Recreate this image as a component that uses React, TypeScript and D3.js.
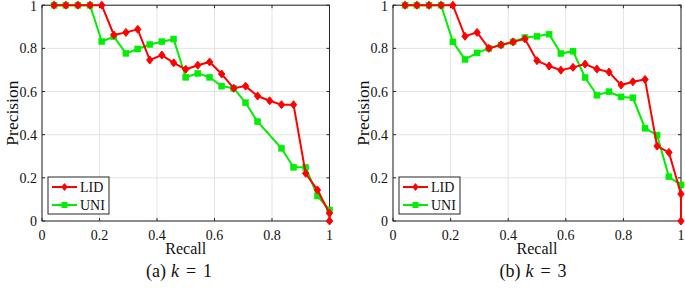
import React from "react";
import * as d3 from "d3";

const recallLid = [0.042, 0.083, 0.125, 0.167, 0.208, 0.25, 0.292, 0.333, 0.375, 0.417, 0.458, 0.5, 0.542, 0.583, 0.625, 0.667, 0.708, 0.75, 0.792, 0.833, 0.875, 0.917, 0.958, 1, 1];
const precisionLidK1 = [1, 1, 1, 1, 1, 0.862, 0.874, 0.888, 0.746, 0.769, 0.733, 0.703, 0.722, 0.737, 0.681, 0.615, 0.625, 0.579, 0.557, 0.539, 0.539, 0.221, 0.144, 0.036, 0];
const recallUniK1 = [0.042, 0.083, 0.125, 0.167, 0.208, 0.25, 0.292, 0.333, 0.375, 0.417, 0.458, 0.5, 0.542, 0.583, 0.625, 0.667, 0.708, 0.75, 0.833, 0.875, 0.917, 0.958, 1];
const precisionUniK1 = [1, 1, 1, 1, 0.832, 0.854, 0.777, 0.797, 0.818, 0.831, 0.843, 0.666, 0.684, 0.666, 0.625, 0.615, 0.548, 0.46, 0.337, 0.249, 0.249, 0.116, 0.051];

const precisionLidK3 = [1, 1, 1, 1, 1, 0.856, 0.874, 0.8, 0.816, 0.83, 0.844, 0.743, 0.718, 0.699, 0.712, 0.727, 0.704, 0.69, 0.63, 0.645, 0.656, 0.347, 0.318, 0.125, 0];
const recallUniK3 = [0.042, 0.083, 0.125, 0.167, 0.208, 0.25, 0.292, 0.333, 0.375, 0.417, 0.458, 0.5, 0.542, 0.583, 0.625, 0.667, 0.708, 0.75, 0.792, 0.833, 0.875, 0.917, 0.958, 1];
const precisionUniK3 = [1, 1, 1, 1, 0.83, 0.749, 0.779, 0.8, 0.816, 0.83, 0.85, 0.856, 0.866, 0.776, 0.787, 0.665, 0.583, 0.599, 0.575, 0.571, 0.43, 0.398, 0.205, 0.167];

const tickValues = [0, 0.2, 0.4, 0.6, 0.8, 1];
const tickLabels = ["0", "0.2", "0.4", "0.6", "0.8", "1"];
const seriesNames = ["LID", "UNI"];
const captions = [["(a)", "k", "=", "1"], ["(b)", "k", "=", "3"]];

const RED = "#ff0000";
const GREEN = "#00ee00";
const FONT = "'Liberation Serif', 'Times New Roman', serif";

type Pt = [number, number];

function zip(a: number[], b: number[]): Pt[] {
  return a.map((v, i) => [v, b[i]] as Pt);
}

function Panel(props: {
  left: number;
  right: number;
  lid: Pt[];
  uni: Pt[];
  caption: string[];
  captionX: number;
}) {
  const top = 5.2;
  const bottom = 221;
  const x = d3.scaleLinear().domain([0, 1]).range([props.left, props.right]);
  const y = d3.scaleLinear().domain([0, 1]).range([bottom, top]);
  const line = d3.line<Pt>().x((d) => x(d[0])).y((d) => y(d[1]));
  const tk = 3;
  const diamond = (cx: number, cy: number, s = 4) =>
    `M${cx},${cy - s}L${cx + s * 0.8},${cy}L${cx},${cy + s}L${cx - s * 0.8},${cy}Z`;
  const cx = (props.left + props.right) / 2;
  const lgX = props.left + 6;
  const lgY = 177;
  const ts = { fontFamily: FONT, fontSize: 14 } as React.CSSProperties;
  return (
    <g>
      {tickValues.map((t) => (
        <g key={"g" + t}>
          <line x1={x(t)} x2={x(t)} y1={top} y2={bottom} stroke="#e3e3e3" strokeWidth={1} />
          <line x1={props.left} x2={props.right} y1={y(t)} y2={y(t)} stroke="#e3e3e3" strokeWidth={1} />
        </g>
      ))}
      <rect x={props.left} y={top} width={props.right - props.left} height={bottom - top} fill="none" stroke="#262626" strokeWidth={1} />
      {tickValues.map((t, i) => (
        <g key={"t" + t}>
          <line x1={x(t)} x2={x(t)} y1={bottom} y2={bottom - tk} stroke="#262626" />
          <line x1={x(t)} x2={x(t)} y1={top} y2={top + tk} stroke="#262626" />
          <line x1={props.left} x2={props.left + tk} y1={y(t)} y2={y(t)} stroke="#262626" />
          <line x1={props.right} x2={props.right - tk} y1={y(t)} y2={y(t)} stroke="#262626" />
          <text x={x(t)} y={240} textAnchor="middle" style={ts} fill="#111">
            {tickLabels[i]}
          </text>
          <text x={props.left - 5} y={Math.max(y(t) + 5, 11)} textAnchor="end" style={ts} fill="#111">
            {tickLabels[i]}
          </text>
        </g>
      ))}
      <path d={line(props.uni) || ""} fill="none" stroke={GREEN} strokeWidth={2} />
      {props.uni.map((d, i) => (
        <rect key={"u" + i} x={x(d[0]) - 3} y={y(d[1]) - 3} width={6} height={6} fill={GREEN} stroke={GREEN} strokeWidth={0.5} />
      ))}
      <path d={line(props.lid) || ""} fill="none" stroke={RED} strokeWidth={2} />
      {props.lid.map((d, i) => (
        <path key={"l" + i} d={diamond(x(d[0]), y(d[1]))} fill={RED} stroke={RED} strokeWidth={1} />
      ))}
      <text x={cx} y={254} textAnchor="middle" style={{ fontFamily: FONT, fontSize: 16 }} fill="#111">Recall</text>
      <text
        transform={`translate(${props.left - 24},${(top + bottom) / 2}) rotate(-90)`}
        textAnchor="middle"
        style={{ fontFamily: FONT, fontSize: 17.5 }}
        fill="#111"
      >
        Precision
      </text>
      <text x={props.captionX} y={277} textAnchor="middle" style={{ fontFamily: FONT, fontSize: 18 }} fill="#111">
        {props.caption[0]}
        <tspan dx={5} fontStyle="italic">{props.caption[1]}</tspan>
        <tspan dx={7}>{props.caption[2]}</tspan>
        <tspan dx={7}>{props.caption[3]}</tspan>
      </text>
      <rect x={lgX} y={lgY} width={61} height={37} fill="#fff" stroke="#262626" strokeWidth={1} />
      <line x1={lgX + 4} x2={lgX + 29} y1={lgY + 10} y2={lgY + 10} stroke={RED} strokeWidth={2} />
      <path d={diamond(lgX + 16.5, lgY + 10)} fill={RED} />
      <text x={lgX + 32} y={lgY + 15} style={ts} fill="#111">{seriesNames[0]}</text>
      <line x1={lgX + 4} x2={lgX + 29} y1={lgY + 28} y2={lgY + 28} stroke={GREEN} strokeWidth={2} />
      <rect x={lgX + 13.5} y={lgY + 25} width={6} height={6} fill={GREEN} />
      <text x={lgX + 32} y={lgY + 33} style={ts} fill="#111">{seriesNames[1]}</text>
    </g>
  );
}

export default function App() {
  return (
    <svg width={685} height={288} style={{ position: "absolute", left: 0, top: 0, background: "#fff" }}>
      <rect width={685} height={288} fill="#fff" />
      <Panel
        left={42}
        right={329.5}
        lid={zip(recallLid, precisionLidK1)}
        uni={zip(recallUniK1, precisionUniK1)}
        caption={captions[0]}
        captionX={179}
      />
      <Panel
        left={393}
        right={681}
        lid={zip(recallLid, precisionLidK3)}
        uni={zip(recallUniK3, precisionUniK3)}
        caption={captions[1]}
        captionX={533}
      />
    </svg>
  );
}
